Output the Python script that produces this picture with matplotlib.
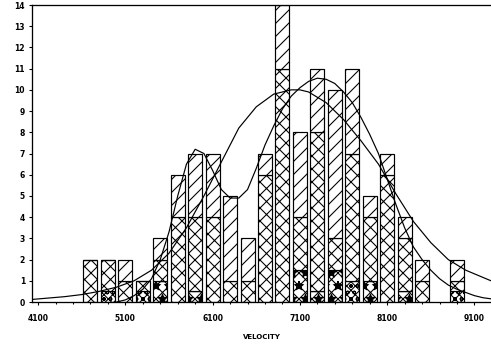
import matplotlib
matplotlib.use("Agg")
import matplotlib.pyplot as plt
import numpy as np

# bin centres (velocity) and stacked counts per class
centers = [4700, 4900, 5100, 5300, 5500, 5700, 5900, 6100, 6300, 6500, 6700,
           6900, 7100, 7300, 7500, 7700, 7900, 8100, 8300, 8500, 8900]
dark = [0, 0, 0, 0, 1, 0, 0.5, 0, 0, 0, 0, 0, 1.5, 0.5, 1.5, 0, 1, 0, 0.5, 0, 0]
circ = [0, 0.5, 0, 0.5, 0, 0, 0, 0, 0, 0, 0, 0, 0, 0, 0, 1, 0, 0, 0, 0, 0.5]
cross = [2, 1.5, 1, 0.5, 1, 4, 3.5, 4, 1, 1, 6, 11, 2.5, 7.5, 1.5, 6, 3, 6, 2.5, 1, 0.5]
diag = [0, 0, 1, 0, 1, 2, 3, 3, 4, 2, 1, 3, 4, 3, 7, 4, 1, 1, 1, 1, 1]

# fitted curves
broad_x = [4030, 4200, 4400, 4600, 4800, 5000, 5200, 5400, 5600, 5800, 6000, 6200,
           6400, 6600, 6800, 7000, 7100, 7200, 7400, 7600, 7800, 8000, 8200, 8400,
           8600, 8800, 9000, 9290]
broad_y = [0.12, 0.18, 0.25, 0.35, 0.5, 0.7, 1.0, 1.5, 2.3, 3.5, 5.0, 6.6,
           8.2, 9.2, 9.8, 10.0, 10.0, 9.9, 9.4, 8.6, 7.6, 6.5, 5.1, 3.8,
           2.8, 2.0, 1.5, 1.0]
bimod_x = [5000, 5100, 5200, 5300, 5400, 5500, 5600, 5700, 5800, 5900, 6000, 6100,
           6200, 6300, 6400, 6500, 6600, 6700, 6800, 6900, 7000, 7100, 7200, 7300,
           7400, 7500, 7600, 7700, 7800, 7900, 8000, 8100, 8200, 8300, 8400, 8500,
           8600, 8700, 8800, 8900, 9000, 9100, 9200, 9290]
bimod_y = [0.0, 0.1, 0.3, 0.6, 1.1, 2.0, 3.3, 5.0, 6.5, 7.2, 7.0, 6.2,
           5.3, 4.9, 4.9, 5.3, 6.3, 7.4, 8.3, 9.1, 9.7, 10.1, 10.4, 10.55,
           10.5, 10.3, 9.9, 9.4, 8.7, 7.9, 7.0, 5.8, 4.6, 3.5, 2.6, 2.0,
           1.5, 1.1, 0.8, 0.6, 0.45, 0.3, 0.2, 0.15]

DPI = 78
plt.rcParams["hatch.linewidth"] = 1.0
plt.rcParams["font.family"] = "DejaVu Sans"

fig = plt.figure(figsize=(491 / DPI, 349 / DPI), dpi=DPI)
ax = fig.add_axes([32 / 491, 1 - 302 / 349, 1 - 32 / 491, (302 - 5) / 349])

width = 160
bottom = np.zeros(len(centers))
for vals, hatch in [(dark, "xx*"), (circ, "xxxoo"), (cross, "xx"), (diag, "//")]:
    vals = np.array(vals, dtype=float)
    ax.bar(centers, vals, width=width, bottom=bottom, color="white",
           edgecolor="black", linewidth=1.1, hatch=hatch)
    bottom += vals

ax.plot(broad_x, broad_y, color="black", lw=1.1)
ax.plot(bimod_x, bimod_y, color="black", lw=1.1)

ax.set_xlim(4030, 9290)
ax.set_ylim(0, 14)
ax.set_yticks(range(0, 15))
ax.set_xticks(range(4100, 9101, 1000))
ax.set_xticks(range(4300, 9300, 200), minor=True)
ax.spines["right"].set_visible(False)
for s in ["left", "bottom", "top"]:
    ax.spines[s].set_linewidth(1.2)
ax.tick_params(axis="both", which="major", labelsize=7, length=3, width=1)
ax.tick_params(axis="x", which="major", pad=8)
ax.tick_params(axis="x", which="minor", length=2, width=1)
for lab in ax.get_xticklabels() + ax.get_yticklabels():
    lab.set_fontweight("bold")
ax.set_xlabel("VELOCITY", fontsize=6.5, fontweight="bold", labelpad=10)

fig.savefig("out.png", dpi=DPI)
